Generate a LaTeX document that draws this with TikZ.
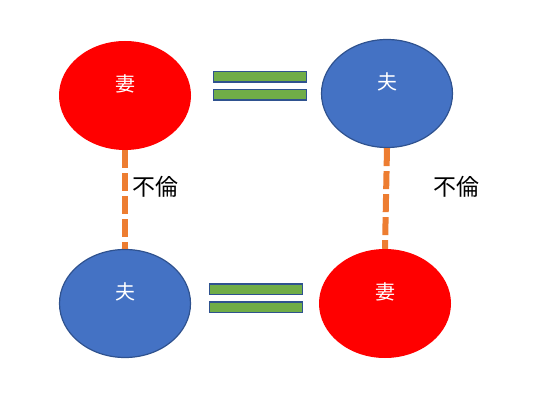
\documentclass[tikz,border=0pt]{standalone}
\usepackage{fontspec}
\newfontfamily\jpfont{Noto Sans CJK JP}
\usepackage{xcolor}
\usetikzlibrary{positioning,shapes.geometric}
\definecolor{wifered}{HTML}{FF0000}
\definecolor{husbblue}{HTML}{4472C4}
\definecolor{edgeblue}{HTML}{2F528F}
\definecolor{bargreen}{HTML}{70AD47}
\definecolor{affair}{HTML}{ED7D31}

\begin{document}
\begin{tikzpicture}[
    x=1pt, y=1pt,
    wife/.style={ellipse, fill=wifered, minimum width=132pt, minimum height=109pt,
                 inner sep=0pt},
    husb/.style={ellipse, draw=edgeblue, line width=1.2pt, fill=husbblue,
                 minimum width=131pt, minimum height=108pt, inner sep=0pt},
    who/.style={text=white, font=\jpfont\fontsize{20}{24}\selectfont, yshift=12pt},
    eqbar/.style={draw=edgeblue, line width=1.5pt, fill=bargreen,
                  minimum width=93pt, minimum height=10.5pt, inner sep=0pt},
    cheat/.style={draw=affair, line width=6pt, dash pattern=on 18pt off 5pt},
    lbl/.style={font=\jpfont\fontsize{23}{27}\selectfont},
]
\useasboundingbox (0,0) rectangle (542,400);

\node[wife] (w1) at (125,304.5) {};
\node[husb] (h1) at (387,306.5) {};
\node[husb] (h2) at (125,96.5) {};
\node[wife] (w2) at (385,96.5) {};

% dashed links
\draw[cheat] (w1.south) -- (h2.north);
\draw[cheat] (h1.south) -- (w2.north);

\node[who] at (w1.center) {妻};
\node[who] at (h1.center) {夫};
\node[who] at (h2.center) {夫};
\node[who] at (w2.center) {妻};

% equal signs
\node[eqbar] (eq1a) at (260,323) {};
\node[eqbar, below=6pt of eq1a] (eq1b) {};
\node[eqbar] (eq2a) at (256,111) {};
\node[eqbar, below=6pt of eq2a] (eq2b) {};

\node[lbl] (l1) at (155,213) {不倫};
\node[lbl] (l2) at (456,213) {不倫};
\end{tikzpicture}
\end{document}
